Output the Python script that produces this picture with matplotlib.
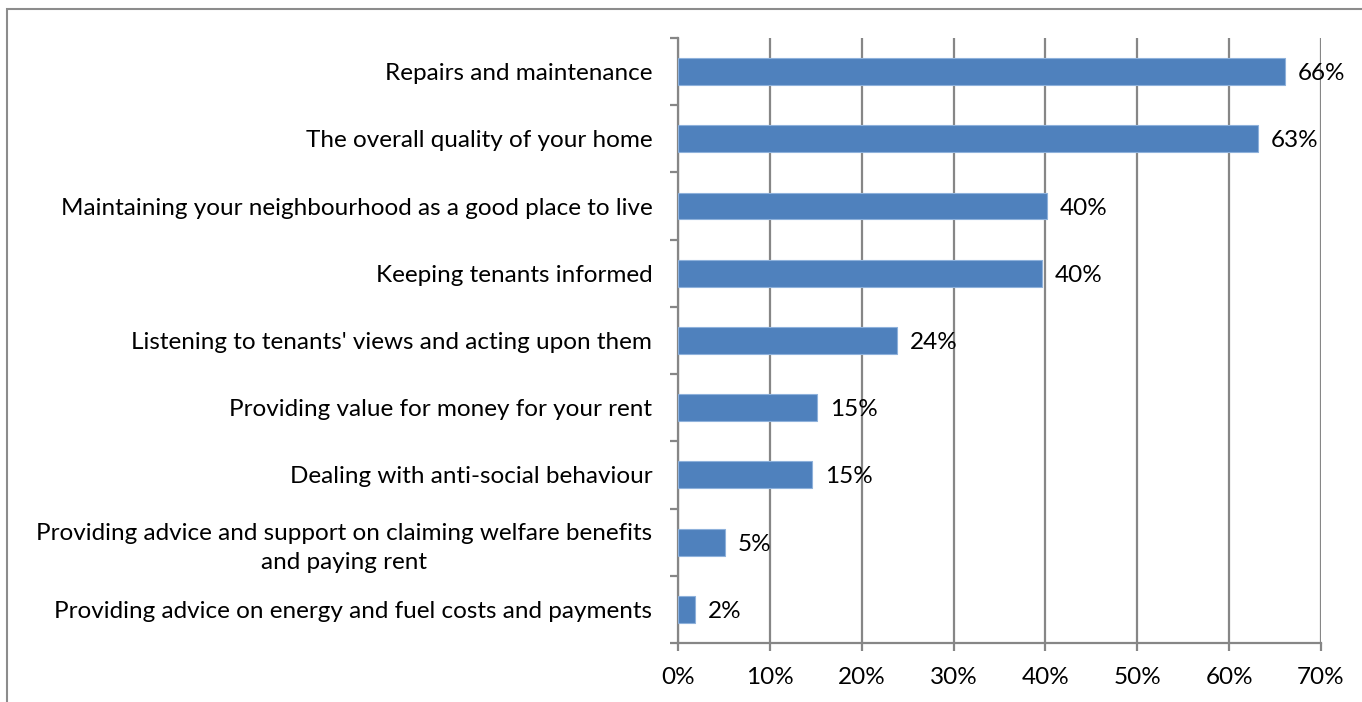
import matplotlib.pyplot as plt
from matplotlib.patches import Rectangle
from matplotlib.ticker import PercentFormatter, MultipleLocator
import numpy as np

# share of tenants rating each service as a priority
categories = [
    "Repairs and maintenance",
    "The overall quality of your home",
    "Maintaining your neighbourhood as a good place to live",
    "Keeping tenants informed",
    "Listening to tenants' views and acting upon them",
    "Providing value for money for your rent",
    "Dealing with anti-social behaviour",
    "Providing advice and support on claiming welfare benefits\nand paying rent",
    "Providing advice on energy and fuel costs and payments",
]
values = [0.661, 0.631, 0.402, 0.396, 0.238, 0.151, 0.146, 0.051, 0.019]

BAR = "#4F81BD"
GRID = "#868686"
FS = 17.5

plt.rcParams["font.family"] = ["Lato", "DejaVu Sans"]

W, H = 1362, 702
fig = plt.figure(figsize=(W / 100, H / 100), dpi=100)
ax = fig.add_axes([678 / W, 59 / H, (1321 - 678) / W, (643 - 38) / H])

y = np.arange(len(categories))
ax.barh(y, values, height=0.4, color=BAR, edgecolor="#8EB1DB", linewidth=0.8, zorder=3)

for yi, v in zip(y, values):
    ax.text(v + 0.014, yi + 0.03, f"{v * 100:.0f}%", va="center", ha="left", fontsize=FS, zorder=4)

ax.set_xlim(0, 0.7)
ax.set_ylim(len(categories) - 0.5, -0.5)
ax.xaxis.set_major_locator(MultipleLocator(0.1))
ax.xaxis.set_major_formatter(PercentFormatter(1.0, decimals=0))
ax.grid(axis="x", color=GRID, linewidth=1.6, zorder=0)

ax.set_yticks(y)
ax.set_yticklabels(categories, multialignment="center", linespacing=1.45)
ax.set_yticks(np.arange(len(categories) + 1) - 0.5, minor=True)
ax.tick_params(axis="y", which="major", length=0, pad=18.5, labelsize=FS)
ax.tick_params(axis="y", which="minor", length=6, width=1.6, color=GRID, direction="out")
ax.tick_params(axis="x", length=6, width=1.6, color=GRID, pad=11, labelsize=FS)

for side in ("top", "right"):
    ax.spines[side].set_visible(False)
for side in ("left", "bottom"):
    ax.spines[side].set_color(GRID)
    ax.spines[side].set_linewidth(1.6)

# chart area border
fig.add_artist(Rectangle((7 / W, -0.1), 2, (H - 9) / H + 0.1, transform=fig.transFigure,
                         fill=False, edgecolor="#8C8C8C", linewidth=1.5))

fig.savefig("out.png", dpi=100)
